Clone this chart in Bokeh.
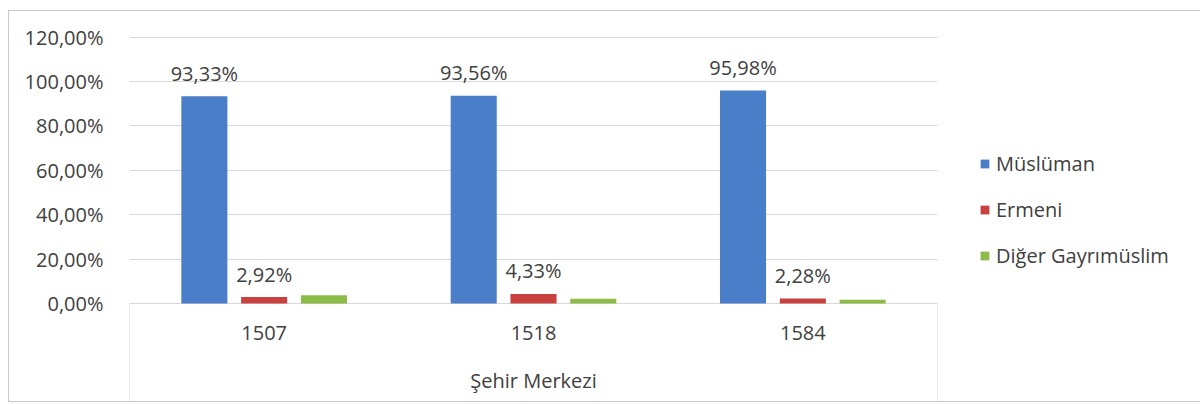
from bokeh.plotting import figure
from bokeh.models import ColumnDataSource, FixedTicker, Legend, LegendItem, FactorRange, Range1d
from bokeh.transform import dodge
from bokeh.core.properties import value
from bokeh.embed import file_html
from bokeh.resources import INLINE

# ---- data ----
years = ["1507", "1518", "1584"]
group_label = "Şehir Merkezi"
series_names = ["Müslüman", "Ermeni", "Diğer Gayrımüslim"]
muslim = [93.33, 93.56, 95.98]
armenian = [2.92, 4.33, 2.28]
other = [3.75, 2.11, 1.74]
y_ticks = [0, 20, 40, 60, 80, 100, 120]

colors = ["#4A7EC8", "#C8413F", "#8DBB47"]
FONT = "Open Sans"
TXT = "#404040"
GRID = "#d9d9d9"


def pct(v):
    return f"{v:.2f}".replace(".", ",") + "%"


src = ColumnDataSource(dict(
    year=years, m=muslim, a=armenian, o=other,
    m_lbl=[pct(v) for v in muslim], a_lbl=[pct(v) for v in armenian],
))

Y0, Y1 = -44.14, 124.77

p = figure(x_range=FactorRange(*years, range_padding=0), y_range=Range1d(Y0, Y1),
           frame_width=808, frame_height=375, output_backend="svg", toolbar_location=None,
           min_border_left=120, min_border_right=0, min_border_top=15, min_border_bottom=0)
p.styles = {"margin-left": "8px", "margin-top": "10px", "border": "1px solid #c8c8c8"}
p.outline_line_color = None
p.background_fill_color = "white"
p.border_fill_color = "white"

p.xaxis.visible = False
p.xgrid.grid_line_color = None

ticker = FixedTicker(ticks=y_ticks)
p.yaxis.ticker = ticker
p.yaxis.major_label_overrides = {t: pct(t) for t in y_ticks}
p.yaxis.axis_line_color = None
p.yaxis.major_tick_line_color = None
p.yaxis.minor_tick_line_color = None
p.yaxis.major_label_standoff = 20
p.yaxis.major_label_text_font = FONT
p.yaxis.major_label_text_font_size = "20px"
p.yaxis.major_label_text_color = TXT
p.ygrid.grid_line_color = GRID
p.ygrid.grid_line_width = 1

offs = [-0.222, 0.0, 0.222]
BW = 0.171
cols = ["m", "a", "o"]
renderers = []
for c, off, col in zip(cols, offs, colors):
    r = p.vbar(x=dodge("year", off, range=p.x_range), top=c, bottom=0, width=BW,
               source=src, fill_color=col, line_color=None)
    renderers.append(r)

for c, off in (("m", offs[0]), ("a", offs[1])):
    p.text(x=dodge("year", off, range=p.x_range), y=c, text=c + "_lbl", source=src,
           text_align="center", text_baseline="middle", y_offset=-23,
           text_font=value(FONT), text_font_size="20px", text_color=TXT)

# category axis area (multi-level style)
n = len(years)
p.segment(x0=[0, n], y0=[0, 0], x1=[0, n], y1=[Y0, Y0], line_color=GRID, line_width=1)
p.text(x=years, y=[-13.5] * n, text=years, text_align="center", text_baseline="middle",
       text_font=value(FONT), text_font_size="20px", text_color=TXT)
p.text(x=[n / 2], y=[-34.7], text=[group_label], text_align="center", text_baseline="middle",
       text_font=value(FONT), text_font_size="20px", text_color=TXT)

legend = Legend(items=[LegendItem(label=nm, renderers=[r]) for nm, r in zip(series_names, renderers)],
                location=(42, 132), orientation="vertical", glyph_width=11, glyph_height=11,
                label_standoff=6, spacing=19, padding=0, margin=0, label_height=20,
                border_line_color=None, background_fill_alpha=0,
                label_text_font=FONT, label_text_font_size="20px", label_text_color=TXT)
p.add_layout(legend, "right")

open("out.html", "w").write(file_html(p, INLINE))
